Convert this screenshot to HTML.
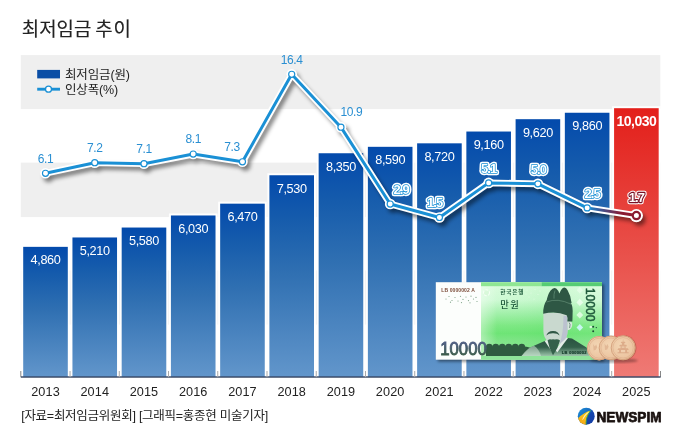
<!DOCTYPE html>
<html lang="ko"><head><meta charset="utf-8"><title>최저임금 추이</title>
<style>
html,body{margin:0;padding:0;background:#fff}
body{width:680px;height:442px;overflow:hidden;font-family:'Liberation Sans','Noto Sans CJK KR',sans-serif}
svg{display:block}
text{font-family:'Liberation Sans','Noto Sans CJK KR',sans-serif}
</style></head><body>
<svg width="680" height="442" viewBox="0 0 680 442">
<defs>
<linearGradient id="gb" x1="0" y1="0" x2="0" y2="1"><stop offset="0" stop-color="#034aac"/><stop offset="0.22" stop-color="#165cac"/><stop offset="0.49" stop-color="#3070b2"/><stop offset="1" stop-color="#6296cb"/></linearGradient>
<linearGradient id="gr" x1="0" y1="0" x2="0" y2="1"><stop offset="0" stop-color="#e31f1a"/><stop offset="0.56" stop-color="#e9524c"/><stop offset="1" stop-color="#ef7a75"/></linearGradient>
<linearGradient id="gl" gradientUnits="userSpaceOnUse" x1="587" y1="0" x2="636" y2="0"><stop offset="0" stop-color="#1a90d5"/><stop offset="0.25" stop-color="#3a5a9a"/><stop offset="0.7" stop-color="#8a1a30"/><stop offset="1" stop-color="#8a1a30"/></linearGradient>
<filter id="sh" x="-5%" y="-10%" width="110%" height="130%"><feGaussianBlur in="SourceAlpha" stdDeviation="2.1"/><feOffset dx="3.2" dy="3.8"/><feComponentTransfer><feFuncA type="linear" slope="0.5"/></feComponentTransfer></filter>
<filter id="sh2" x="-10%" y="-10%" width="120%" height="130%"><feGaussianBlur in="SourceAlpha" stdDeviation="1.5"/><feOffset dx="1.5" dy="2"/><feComponentTransfer><feFuncA type="linear" slope="0.45"/></feComponentTransfer></filter>
<linearGradient id="ng" x1="0" y1="0" x2="0" y2="1"><stop offset="0" stop-color="#dcfcde"/><stop offset="0.23" stop-color="#cefad4"/><stop offset="0.4" stop-color="#a2f0aa"/><stop offset="0.56" stop-color="#7ce882"/><stop offset="0.66" stop-color="#6ce474"/><stop offset="0.76" stop-color="#7ee486"/><stop offset="1" stop-color="#8ee696"/></linearGradient>
<linearGradient id="ng2" x1="0" y1="0" x2="1" y2="0"><stop offset="0" stop-color="#fff" stop-opacity="0"/><stop offset="0.5" stop-color="#46d45a" stop-opacity="0.08"/><stop offset="1" stop-color="#fff" stop-opacity="0.05"/></linearGradient>
<linearGradient id="ng3" x1="0" y1="0" x2="1" y2="0"><stop offset="0" stop-color="#fff" stop-opacity="0.4"/><stop offset="1" stop-color="#fff" stop-opacity="0"/></linearGradient>
<linearGradient id="rg" gradientUnits="userSpaceOnUse" x1="0" y1="340" x2="0" y2="356"><stop offset="0" stop-color="#2c5542"/><stop offset="0.45" stop-color="#33604a"/><stop offset="1" stop-color="#9cc4aa"/></linearGradient>
<filter id="bl05"><feGaussianBlur stdDeviation="0.5"/></filter>
<linearGradient id="tg" gradientUnits="userSpaceOnUse" x1="0" y1="343" x2="0" y2="355.5"><stop offset="0" stop-color="#4d5d80"/><stop offset="1" stop-color="#3b5c48"/></linearGradient>
<filter id="bl"><feGaussianBlur stdDeviation="1.2"/></filter>
<radialGradient id="cg" cx="0.42" cy="0.4" r="0.68"><stop offset="0" stop-color="#f3d6b4"/><stop offset="0.78" stop-color="#ecc4a0"/><stop offset="1" stop-color="#d6a07a"/></radialGradient>
</defs>
<rect width="680" height="442" fill="#fff"/>
<rect x="20.8" y="55.1" width="639.5" height="54" fill="#efefef"/>
<rect x="20.8" y="162.6" width="639.5" height="54.5" fill="#efefef"/>
<rect x="20.8" y="270.4" width="639.5" height="54.2" fill="#efefef"/>
<text x="21.8" y="35.7" font-size="18.9" word-spacing="-1.4" fill="#222" stroke="#222" stroke-width="0.15" style="font-family:'Liberation Sans','Noto Sans CJK KR',sans-serif">최저임금 <tspan letter-spacing="0.9">추이</tspan></text>
<rect x="37.2" y="69.9" width="22.8" height="8.5" fill="#0a4ea6"/>
<text x="65" y="79" font-size="12.5" letter-spacing="-0.15" fill="#222">최저임금(원)</text>
<line x1="37.2" y1="89.2" x2="60" y2="89.2" stroke="#1a90d5" stroke-width="2.9"/>
<circle cx="48.5" cy="89.2" r="3" fill="#fff" stroke="#1a90d5" stroke-width="1.3"/>
<text x="65" y="93.8" font-size="12.5" letter-spacing="-0.15" fill="#222">인상폭(%)</text>

<rect x="21.20" y="244.85" width="48.60" height="132.35" fill="#fff" fill-opacity="0.92"/>
<rect x="23.20" y="246.85" width="44.60" height="130.35" fill="url(#gb)"/>
<rect x="70.44" y="235.47" width="48.60" height="141.73" fill="#fff" fill-opacity="0.92"/>
<rect x="72.44" y="237.47" width="44.60" height="139.73" fill="url(#gb)"/>
<rect x="119.68" y="225.54" width="48.60" height="151.66" fill="#fff" fill-opacity="0.92"/>
<rect x="121.68" y="227.54" width="44.60" height="149.66" fill="url(#gb)"/>
<rect x="168.92" y="213.48" width="48.60" height="163.72" fill="#fff" fill-opacity="0.92"/>
<rect x="170.92" y="215.48" width="44.60" height="161.72" fill="url(#gb)"/>
<rect x="218.16" y="201.67" width="48.60" height="175.53" fill="#fff" fill-opacity="0.92"/>
<rect x="220.16" y="203.67" width="44.60" height="173.53" fill="url(#gb)"/>
<rect x="267.40" y="173.25" width="48.60" height="203.95" fill="#fff" fill-opacity="0.92"/>
<rect x="269.40" y="175.25" width="44.60" height="201.95" fill="url(#gb)"/>
<rect x="316.64" y="151.25" width="48.60" height="225.95" fill="#fff" fill-opacity="0.92"/>
<rect x="318.64" y="153.25" width="44.60" height="223.95" fill="url(#gb)"/>
<rect x="365.88" y="144.82" width="48.60" height="232.38" fill="#fff" fill-opacity="0.92"/>
<rect x="367.88" y="146.82" width="44.60" height="230.38" fill="url(#gb)"/>
<rect x="415.12" y="141.33" width="48.60" height="235.87" fill="#fff" fill-opacity="0.92"/>
<rect x="417.12" y="143.33" width="44.60" height="233.87" fill="url(#gb)"/>
<rect x="464.36" y="129.53" width="48.60" height="247.67" fill="#fff" fill-opacity="0.92"/>
<rect x="466.36" y="131.53" width="44.60" height="245.67" fill="url(#gb)"/>
<rect x="513.60" y="117.19" width="48.60" height="260.01" fill="#fff" fill-opacity="0.92"/>
<rect x="515.60" y="119.19" width="44.60" height="258.01" fill="url(#gb)"/>
<rect x="562.84" y="110.75" width="48.60" height="266.45" fill="#fff" fill-opacity="0.92"/>
<rect x="564.84" y="112.75" width="44.60" height="264.45" fill="url(#gb)"/>
<rect x="612.08" y="106.20" width="48.60" height="271.00" fill="#fff" fill-opacity="0.92"/>
<rect x="614.08" y="108.20" width="44.60" height="269.00" fill="url(#gr)"/>
<path d="M20.8 371V377.2H660.5V371" fill="none" stroke="#888" stroke-width="1"/>
<rect x="21" y="376.2" width="639.5" height="1.4" fill="#2a3f66" fill-opacity="0.75"/>
<line x1="70.04" y1="371" x2="70.04" y2="377.2" stroke="#aaa" stroke-width="1"/>
<line x1="119.28" y1="371" x2="119.28" y2="377.2" stroke="#aaa" stroke-width="1"/>
<line x1="168.52" y1="371" x2="168.52" y2="377.2" stroke="#aaa" stroke-width="1"/>
<line x1="217.76" y1="371" x2="217.76" y2="377.2" stroke="#aaa" stroke-width="1"/>
<line x1="267.00" y1="371" x2="267.00" y2="377.2" stroke="#aaa" stroke-width="1"/>
<line x1="316.24" y1="371" x2="316.24" y2="377.2" stroke="#aaa" stroke-width="1"/>
<line x1="365.48" y1="371" x2="365.48" y2="377.2" stroke="#aaa" stroke-width="1"/>
<line x1="414.72" y1="371" x2="414.72" y2="377.2" stroke="#aaa" stroke-width="1"/>
<line x1="463.96" y1="371" x2="463.96" y2="377.2" stroke="#aaa" stroke-width="1"/>
<line x1="513.20" y1="371" x2="513.20" y2="377.2" stroke="#aaa" stroke-width="1"/>
<line x1="562.44" y1="371" x2="562.44" y2="377.2" stroke="#aaa" stroke-width="1"/>
<line x1="611.68" y1="371" x2="611.68" y2="377.2" stroke="#aaa" stroke-width="1"/>
<text x="45.50" y="264.35" font-size="12.7" fill="#fff" text-anchor="middle" letter-spacing="-0.35">4,860</text>
<text x="94.74" y="254.97" font-size="12.7" fill="#fff" text-anchor="middle" letter-spacing="-0.35">5,210</text>
<text x="143.98" y="245.04" font-size="12.7" fill="#fff" text-anchor="middle" letter-spacing="-0.35">5,580</text>
<text x="193.22" y="232.98" font-size="12.7" fill="#fff" text-anchor="middle" letter-spacing="-0.35">6,030</text>
<text x="242.46" y="221.17" font-size="12.7" fill="#fff" text-anchor="middle" letter-spacing="-0.35">6,470</text>
<text x="291.70" y="192.75" font-size="12.7" fill="#fff" text-anchor="middle" letter-spacing="-0.35">7,530</text>
<text x="340.94" y="170.75" font-size="12.7" fill="#fff" text-anchor="middle" letter-spacing="-0.35">8,350</text>
<text x="390.18" y="164.32" font-size="12.7" fill="#fff" text-anchor="middle" letter-spacing="-0.35">8,590</text>
<text x="439.42" y="160.83" font-size="12.7" fill="#fff" text-anchor="middle" letter-spacing="-0.35">8,720</text>
<text x="488.66" y="149.03" font-size="12.7" fill="#fff" text-anchor="middle" letter-spacing="-0.35">9,160</text>
<text x="537.90" y="136.69" font-size="12.7" fill="#fff" text-anchor="middle" letter-spacing="-0.35">9,620</text>
<text x="587.14" y="130.25" font-size="12.7" fill="#fff" text-anchor="middle" letter-spacing="-0.35">9,860</text>
<text x="636.38" y="125.70" font-size="14" font-weight="bold" fill="#fff" text-anchor="middle" letter-spacing="-0.55">10,030</text>
<text x="45.50" y="395.5" font-size="12.7" fill="#222" text-anchor="middle" letter-spacing="0.1">2013</text>
<text x="94.74" y="395.5" font-size="12.7" fill="#222" text-anchor="middle" letter-spacing="0.1">2014</text>
<text x="143.98" y="395.5" font-size="12.7" fill="#222" text-anchor="middle" letter-spacing="0.1">2015</text>
<text x="193.22" y="395.5" font-size="12.7" fill="#222" text-anchor="middle" letter-spacing="0.1">2016</text>
<text x="242.46" y="395.5" font-size="12.7" fill="#222" text-anchor="middle" letter-spacing="0.1">2017</text>
<text x="291.70" y="395.5" font-size="12.7" fill="#222" text-anchor="middle" letter-spacing="0.1">2018</text>
<text x="340.94" y="395.5" font-size="12.7" fill="#222" text-anchor="middle" letter-spacing="0.1">2019</text>
<text x="390.18" y="395.5" font-size="12.7" fill="#222" text-anchor="middle" letter-spacing="0.1">2020</text>
<text x="439.42" y="395.5" font-size="12.7" fill="#222" text-anchor="middle" letter-spacing="0.1">2021</text>
<text x="488.66" y="395.5" font-size="12.7" fill="#222" text-anchor="middle" letter-spacing="0.1">2022</text>
<text x="537.90" y="395.5" font-size="12.7" fill="#222" text-anchor="middle" letter-spacing="0.1">2023</text>
<text x="587.14" y="395.5" font-size="12.7" fill="#222" text-anchor="middle" letter-spacing="0.1">2024</text>
<text x="636.38" y="395.5" font-size="12.7" fill="#222" text-anchor="middle" letter-spacing="0.1">2025</text>
<g filter="url(#sh)"><path d="M45.50 173.28 L94.74 162.71 L143.98 163.67 L193.22 154.06 L242.46 161.75 L291.70 74.30 L340.94 127.15 L390.18 204.03 L439.42 217.49 L488.66 182.89 L537.90 183.85 L587.14 207.88 L636.38 215.56" fill="none" stroke="#000" stroke-width="5.6" stroke-linejoin="round" stroke-linecap="round"/>
<circle cx="45.50" cy="173.28" r="5" fill="#000"/>
<circle cx="94.74" cy="162.71" r="5" fill="#000"/>
<circle cx="143.98" cy="163.67" r="5" fill="#000"/>
<circle cx="193.22" cy="154.06" r="5" fill="#000"/>
<circle cx="242.46" cy="161.75" r="5" fill="#000"/>
<circle cx="291.70" cy="74.30" r="5" fill="#000"/>
<circle cx="340.94" cy="127.15" r="5" fill="#000"/>
<circle cx="390.18" cy="204.03" r="5" fill="#000"/>
<circle cx="439.42" cy="217.49" r="5" fill="#000"/>
<circle cx="488.66" cy="182.89" r="5" fill="#000"/>
<circle cx="537.90" cy="183.85" r="5" fill="#000"/>
<circle cx="587.14" cy="207.88" r="5" fill="#000"/>
<circle cx="636.38" cy="215.56" r="6.2" fill="#000"/>
</g>
<path d="M45.50 173.28 L94.74 162.71 L143.98 163.67 L193.22 154.06 L242.46 161.75 L291.70 74.30 L340.94 127.15 L390.18 204.03 L439.42 217.49 L488.66 182.89 L537.90 183.85 L587.14 207.88 L636.38 215.56" fill="none" stroke="#fff" stroke-width="6.8" stroke-linejoin="round" stroke-linecap="round"/>
<circle cx="45.50" cy="173.28" r="5.3" fill="#fff"/>
<circle cx="94.74" cy="162.71" r="5.3" fill="#fff"/>
<circle cx="143.98" cy="163.67" r="5.3" fill="#fff"/>
<circle cx="193.22" cy="154.06" r="5.3" fill="#fff"/>
<circle cx="242.46" cy="161.75" r="5.3" fill="#fff"/>
<circle cx="291.70" cy="74.30" r="5.3" fill="#fff"/>
<circle cx="340.94" cy="127.15" r="5.3" fill="#fff"/>
<circle cx="390.18" cy="204.03" r="5.3" fill="#fff"/>
<circle cx="439.42" cy="217.49" r="5.3" fill="#fff"/>
<circle cx="488.66" cy="182.89" r="5.3" fill="#fff"/>
<circle cx="537.90" cy="183.85" r="5.3" fill="#fff"/>
<circle cx="587.14" cy="207.88" r="5.3" fill="#fff"/>
<circle cx="636.38" cy="215.56" r="6.6" fill="#fff"/>
<path d="M45.50 173.28 L94.74 162.71 L143.98 163.67 L193.22 154.06 L242.46 161.75 L291.70 74.30 L340.94 127.15 L390.18 204.03 L439.42 217.49 L488.66 182.89 L537.90 183.85 L587.14 207.88" fill="none" stroke="#1a90d5" stroke-width="3" stroke-linejoin="round" stroke-linecap="round"/>
<path d="M587.14 207.88 L636.38 215.56" fill="none" stroke="url(#gl)" stroke-width="3" stroke-linecap="round"/>
<circle cx="45.50" cy="173.28" r="3.05" fill="#fff" stroke="#1a90d5" stroke-width="1.15"/>
<circle cx="94.74" cy="162.71" r="3.05" fill="#fff" stroke="#1a90d5" stroke-width="1.15"/>
<circle cx="143.98" cy="163.67" r="3.05" fill="#fff" stroke="#1a90d5" stroke-width="1.15"/>
<circle cx="193.22" cy="154.06" r="3.05" fill="#fff" stroke="#1a90d5" stroke-width="1.15"/>
<circle cx="242.46" cy="161.75" r="3.05" fill="#fff" stroke="#1a90d5" stroke-width="1.15"/>
<circle cx="291.70" cy="74.30" r="3.05" fill="#fff" stroke="#1a90d5" stroke-width="1.15"/>
<circle cx="340.94" cy="127.15" r="3.05" fill="#fff" stroke="#1a90d5" stroke-width="1.15"/>
<circle cx="390.18" cy="204.03" r="3.05" fill="#fff" stroke="#1a90d5" stroke-width="1.15"/>
<circle cx="439.42" cy="217.49" r="3.05" fill="#fff" stroke="#1a90d5" stroke-width="1.15"/>
<circle cx="488.66" cy="182.89" r="3.05" fill="#fff" stroke="#1a90d5" stroke-width="1.15"/>
<circle cx="537.90" cy="183.85" r="3.05" fill="#fff" stroke="#1a90d5" stroke-width="1.15"/>
<circle cx="587.14" cy="207.88" r="3.05" fill="#fff" stroke="#1a90d5" stroke-width="1.15"/>
<circle cx="636.38" cy="215.56" r="3.6" fill="#fff" stroke="#8a1a30" stroke-width="2.2"/>
<text x="45.50" y="162.58" font-size="12" fill="#2a8fd2" text-anchor="middle" letter-spacing="-0.4">6.1</text>
<text x="94.74" y="152.01" font-size="12" fill="#2a8fd2" text-anchor="middle" letter-spacing="-0.4">7.2</text>
<text x="143.98" y="152.97" font-size="12" fill="#2a8fd2" text-anchor="middle" letter-spacing="-0.4">7.1</text>
<text x="193.22" y="143.36" font-size="12" fill="#2a8fd2" text-anchor="middle" letter-spacing="-0.4">8.1</text>
<text x="231.96" y="151.05" font-size="12" fill="#2a8fd2" text-anchor="middle" letter-spacing="-0.4">7.3</text>
<text x="291.70" y="63.60" font-size="12" fill="#2a8fd2" text-anchor="middle" letter-spacing="-0.4">16.4</text>
<text x="351.44" y="116.45" font-size="12" fill="#2a8fd2" text-anchor="middle" letter-spacing="-0.4">10.9</text>
<text x="401.08" y="194.03" font-size="13" font-weight="bold" fill="#fff" stroke="#fff" stroke-width="4.4" stroke-linejoin="round" text-anchor="middle" letter-spacing="-0.9">2.9</text>
<text x="401.08" y="194.03" font-size="13" font-weight="bold" fill="#fff" stroke="#1a90d5" stroke-width="1.5" stroke-linejoin="round" paint-order="stroke" text-anchor="middle" letter-spacing="-0.9">2.9</text>
<text x="434.72" y="206.79" font-size="13" font-weight="bold" fill="#fff" stroke="#fff" stroke-width="4.4" stroke-linejoin="round" text-anchor="middle" letter-spacing="-0.9">1.5</text>
<text x="434.72" y="206.79" font-size="13" font-weight="bold" fill="#fff" stroke="#1a90d5" stroke-width="1.5" stroke-linejoin="round" paint-order="stroke" text-anchor="middle" letter-spacing="-0.9">1.5</text>
<text x="488.66" y="173.29" font-size="13" font-weight="bold" fill="#fff" stroke="#fff" stroke-width="4.4" stroke-linejoin="round" text-anchor="middle" letter-spacing="-0.9">5.1</text>
<text x="488.66" y="173.29" font-size="13" font-weight="bold" fill="#fff" stroke="#1a90d5" stroke-width="1.5" stroke-linejoin="round" paint-order="stroke" text-anchor="middle" letter-spacing="-0.9">5.1</text>
<text x="538.40" y="174.35" font-size="13" font-weight="bold" fill="#fff" stroke="#fff" stroke-width="4.4" stroke-linejoin="round" text-anchor="middle" letter-spacing="-0.9">5.0</text>
<text x="538.40" y="174.35" font-size="13" font-weight="bold" fill="#fff" stroke="#1a90d5" stroke-width="1.5" stroke-linejoin="round" paint-order="stroke" text-anchor="middle" letter-spacing="-0.9">5.0</text>
<text x="592.14" y="198.38" font-size="13" font-weight="bold" fill="#fff" stroke="#fff" stroke-width="4.4" stroke-linejoin="round" text-anchor="middle" letter-spacing="-0.9">2.5</text>
<text x="592.14" y="198.38" font-size="13" font-weight="bold" fill="#fff" stroke="#1a90d5" stroke-width="1.5" stroke-linejoin="round" paint-order="stroke" text-anchor="middle" letter-spacing="-0.9">2.5</text>
<text x="636.38" y="201.96" font-size="13" font-weight="bold" fill="#fff" stroke="#fff" stroke-width="4.4" stroke-linejoin="round" text-anchor="middle" letter-spacing="-0.9">1.7</text>
<text x="636.38" y="201.96" font-size="13" font-weight="bold" fill="#fff" stroke="#7a1024" stroke-width="2.3" stroke-linejoin="round" paint-order="stroke" text-anchor="middle" letter-spacing="-0.9">1.7</text>
<text x="21.2" y="420.3" font-size="12.5" fill="#222" letter-spacing="-0.27">[자료=최저임금위원회] [그래픽=홍종현 미술기자]</text>
<g>
<linearGradient id="lg1" x1="0.1" y1="0.1" x2="0.9" y2="0.8"><stop offset="0" stop-color="#1c8ad4"/><stop offset="0.5" stop-color="#1668c0"/><stop offset="0.62" stop-color="#1446ae"/><stop offset="1" stop-color="#143ea6"/></linearGradient>
<linearGradient id="lg2" x1="0.8" y1="0" x2="0.3" y2="1"><stop offset="0" stop-color="#f3d21c"/><stop offset="0.5" stop-color="#f8b818"/><stop offset="1" stop-color="#f2a212"/></linearGradient>
<circle cx="586.25" cy="416.25" r="8.45" fill="url(#lg1)"/>
<clipPath id="lc"><circle cx="586.25" cy="416.25" r="8.45"/></clipPath>
<g clip-path="url(#lc)">
<path d="M590.6 410.6 Q583.4 412.6 577 419.2 L577 427 L586.4 427 Q584.8 418 590.6 410.6Z" fill="url(#lg2)"/>
<path d="M590.6 410.6 Q584.8 418 586.4 427" fill="none" stroke="#2e9e58" stroke-width="0.9"/>
<path d="M588.6 412 Q584 414.8 582.6 419.6 Q585 415.2 588.6 412Z" fill="#fff6c8" stroke="#fff6c8" stroke-width="0.5"/>
</g>
<text x="596.5" y="421.8" font-size="15" font-weight="bold" fill="#1a1210" stroke="#1a1210" stroke-width="0.75" stroke-linejoin="round" textLength="65" lengthAdjust="spacingAndGlyphs">NEWSPIM</text>
</g>
<g id="note">
<rect x="435.8" y="282.2" width="166.2" height="77.5" fill="#000" filter="url(#sh2)"/>
<rect x="435.8" y="282.2" width="166.2" height="77.5" fill="#fcfefc"/>
<rect x="481" y="282.2" width="121" height="77.5" fill="url(#ng)"/>
<rect x="481" y="282.2" width="121" height="77.5" fill="url(#ng2)"/>
<rect x="481" y="282.2" width="16" height="77.5" fill="url(#ng3)"/>
<rect x="481" y="282.2" width="60.5" height="4" fill="#8fe693"/>
<rect x="541.5" y="282.2" width="60.5" height="4" fill="#56cc74"/>
<rect x="481" y="356" width="121" height="3.7" fill="#8fe39a"/>
<text x="441.3" y="291.6" font-size="5" font-weight="bold" fill="#7c4c3a" textLength="33.5" lengthAdjust="spacing">LB 0000002 A</text>
<g fill="#7fa488">
<circle cx="446" cy="299" r="0.6"/><circle cx="449" cy="296.5" r="0.6"/><circle cx="452" cy="300.5" r="0.6"/><circle cx="455" cy="297.5" r="0.6"/><circle cx="458" cy="301" r="0.6"/><circle cx="460.5" cy="296.3" r="0.6"/><circle cx="463" cy="299.4" r="0.6"/><circle cx="466" cy="297" r="0.6"/><circle cx="468.5" cy="300.6" r="0.6"/><circle cx="471" cy="296.2" r="0.6"/><circle cx="473.5" cy="299" r="0.6"/><circle cx="476" cy="297.4" r="0.6"/><circle cx="450.5" cy="302.2" r="0.6"/><circle cx="461.5" cy="302.6" r="0.6"/><circle cx="470" cy="302.8" r="0.6"/><circle cx="477" cy="301.5" r="0.6"/>
</g>
<circle cx="486.5" cy="292.8" r="3" fill="#d6f6d6" fill-opacity="0.6" stroke="#f4fff4" stroke-width="1.1" stroke-dasharray="3 1.2"/>
<text x="500.3" y="293.6" font-size="5.6" font-weight="bold" fill="#1f5a3c" textLength="23" lengthAdjust="spacing">한국은행</text>
<text x="500.3" y="308.4" font-size="9.3" font-weight="500" fill="#1f5a3c" textLength="18.6" lengthAdjust="spacing">만원</text>
<g fill="#f2fff2" fill-opacity="0.75" filter="url(#bl05)">
<path d="M579.8 286.8l3.2 3.4-3.2 3.4-3.2-3.4z" fill-opacity="0.5"/>
<path d="M579.8 298.8l3.4 3.6-3.4 3.6-3.4-3.6z"/>
<path d="M579.8 311.4l3.4 3.6-3.4 3.6-3.4-3.6z"/>
<path d="M579.8 323.9l3.3 3.5-3.3 3.5-3.3-3.5z" fill="#c8f6f0" fill-opacity="1"/>
</g>
<g fill="#f2fff2" fill-opacity="0.55">
<circle cx="527" cy="290" r="0.6"/><circle cx="531" cy="293" r="0.6"/><circle cx="535" cy="289.5" r="0.6"/><circle cx="538" cy="294.5" r="0.6"/><circle cx="529" cy="297" r="0.6"/><circle cx="534" cy="299" r="0.6"/><circle cx="540" cy="291" r="0.6"/><circle cx="526" cy="294" r="0.6"/>
</g>
<circle cx="590.8" cy="327" r="1.3" fill="#f2fff2" fill-opacity="0.8"/>
<circle cx="593.2" cy="326.8" r="1" fill="#1f4a38"/><circle cx="593.2" cy="331.2" r="1" fill="#1f4a38"/><circle cx="596.3" cy="327.6" r="0.7" fill="#1f4a38"/>
<text transform="translate(585.6 287.8) rotate(90)" font-size="13.4" fill="#1f5a3c" stroke="#1f5a3c" stroke-width="0.55" textLength="33.8" lengthAdjust="spacingAndGlyphs">10000</text>
<!-- dark strip with scallops -->
<path d="M486 356V346.4a3.25 2.6 0 0 1 6.5 0a3.25 2.6 0 0 1 6.5 0a3.25 2.6 0 0 1 6.5 0a3.25 2.6 0 0 1 6.5 0a3.25 2.6 0 0 1 6.5 0a3.25 2.6 0 0 1 6.5 0Q531 347 533.5 350L530 356Z" fill="#2f5a40"/>
<!-- robe -->
<path d="M521.5 356 L530 347.6 L545.3 340.8 L553 352 L567.8 338 L572 338.6 L586.5 347.6 L590 356Z" fill="url(#rg)"/>
<path d="M521.5 356 Q527 348 534 345.8 Q539 349 541 356Z" fill="#cfe6d6" fill-opacity="0.55"/>
<!-- collar -->
<path d="M544.6 340.9 L553.2 353.4 L554.6 350.6 L547.4 339.8Z" fill="#e3ece6"/>
<path d="M568 338 L557.2 352.6 L555.6 350 L564.6 337Z" fill="#e3ece6"/>
<!-- face -->
<path d="M543.4 312.5 H567.6 V331 Q567.6 338 563 341 L556 347 L548.5 341.8 Q543.4 338.2 543.4 331Z" fill="#c9d9cf"/>
<path d="M563.5 316 L567.6 316 V331 Q567.6 338 563 341 L559.5 344 Q563.5 334 563.5 316Z" fill="#b9bcd0" fill-opacity="0.8"/>
<!-- ear -->
<path d="M567.6 321 Q572.4 320.2 572.2 325 Q571.8 329.6 567.6 330.2Z" fill="#d9e6de"/>
<path d="M569.2 322.6 Q570.8 324 569.6 328" fill="none" stroke="#2e5744" stroke-width="0.6"/>
<!-- hat -->
<path d="M546.3 302 Q547.6 294.6 550.6 290.6 Q553.6 286.6 556.2 288.6 Q558.4 290.4 559.3 293.6 Q560.4 290 562.8 288 Q565.8 286.6 567.6 290.2 Q570.8 295.4 571.6 303Z" fill="#2e5744"/>
<path d="M543.2 313.8 Q543 305.6 546.3 300.8 Q557.6 296.6 571.2 303.4 Q573 307 572.6 313.8 Q572.5 318 572.4 321.4 L567.4 321.4 Q568 317 566.7 315.2 Q555.8 310.6 543.2 313.8Z" fill="#2e5744"/>
<path d="M546.5 302 Q557.6 297.6 571 304.2" fill="none" stroke="#6d987f" stroke-width="0.6"/>
<path d="M555 290.5 Q553.6 294 554 298.6" fill="none" stroke="#5d8a72" stroke-width="0.8"/>
<!-- mustache -->
<path d="M546.3 335.6 Q547.6 330.8 553 330.9 Q558.4 330.8 559.6 335.6 Q557.4 333.2 553 333.3 Q548.6 333.2 546.3 335.6Z" fill="#2e5744"/>
<!-- beard -->
<path d="M547.6 340.4 Q549.6 338.6 551.4 339.6 Q553 338.8 554.8 339.6 Q557.4 338.6 560 340.4 Q558 348 553 355.3 Q549 348 547.6 340.4Z" fill="#35604b"/>
<text x="561.8" y="353.8" font-size="3.9" font-weight="bold" fill="#173c2c" stroke="#173c2c" stroke-width="0.2" textLength="24.7" lengthAdjust="spacing">LB 0000002</text>
<text x="440.2" y="355" font-size="18" fill="url(#tg)" stroke="url(#tg)" stroke-width="0.9" textLength="46.6" lengthAdjust="spacingAndGlyphs">10000</text>
</g>
<g id="coins">
<ellipse cx="614" cy="360.6" rx="24" ry="2.2" fill="#000" fill-opacity="0.32" filter="url(#bl)"/>
<g>
<circle cx="599.2" cy="348.2" r="12.2" fill="url(#cg)"/><circle cx="599.2" cy="348.2" r="11.7" fill="none" stroke="#cf9a76" stroke-width="0.8"/><circle cx="599.2" cy="348.2" r="10" fill="none" stroke="#dcae8c" stroke-width="0.6"/>
<path d="M593.2 344l1.6 2.4 1.4-2 1 2.8-1.4 2.6-2.2 0.6z" fill="#dcae8c" fill-opacity="0.7"/>
<circle cx="611.5" cy="347.9" r="12.4" fill="#7a4020" fill-opacity="0.38"/>
<circle cx="610.9" cy="347.9" r="12.2" fill="url(#cg)"/><circle cx="610.9" cy="347.9" r="11.7" fill="none" stroke="#cf9a76" stroke-width="0.8"/><circle cx="610.9" cy="347.9" r="10" fill="none" stroke="#dcae8c" stroke-width="0.6"/>
<path d="M604.6 343.6l1.6 2.4 1.4-2 1 2.8-1.4 2.6-2.2 0.6z" fill="#dcae8c" fill-opacity="0.7"/>
<circle cx="623.8" cy="347.8" r="12.6" fill="#7a4020" fill-opacity="0.38"/>
<circle cx="623.1" cy="347.8" r="12.4" fill="url(#cg)"/><circle cx="623.1" cy="347.8" r="11.9" fill="none" stroke="#cf9a76" stroke-width="0.8"/><circle cx="623.1" cy="347.8" r="10.2" fill="none" stroke="#dcae8c" stroke-width="0.6"/>
<path d="M623.1 338.4l0.35 3.4h1.4l0.6 1.3h-1.1v1.7h1.9l0.8 1.5h-1.4v2h2.2l0.9 1.7h-1.7v2.2h1.6v1.1h-11.1v-1.1h1.6v-2.2h-1.7l0.9-1.7h2.2v-2h-1.4l0.8-1.5h1.9v-1.7h-1.1l0.6-1.3h1.4z" fill="#d9a684" fill-opacity="0.85"/>
<path d="M621 349.9h4.2v2.3h-4.2zM621.7 346.4h2.8v1.4h-2.8z" fill="#f0cfb0"/>
</g>
</g>

</svg></body></html>
